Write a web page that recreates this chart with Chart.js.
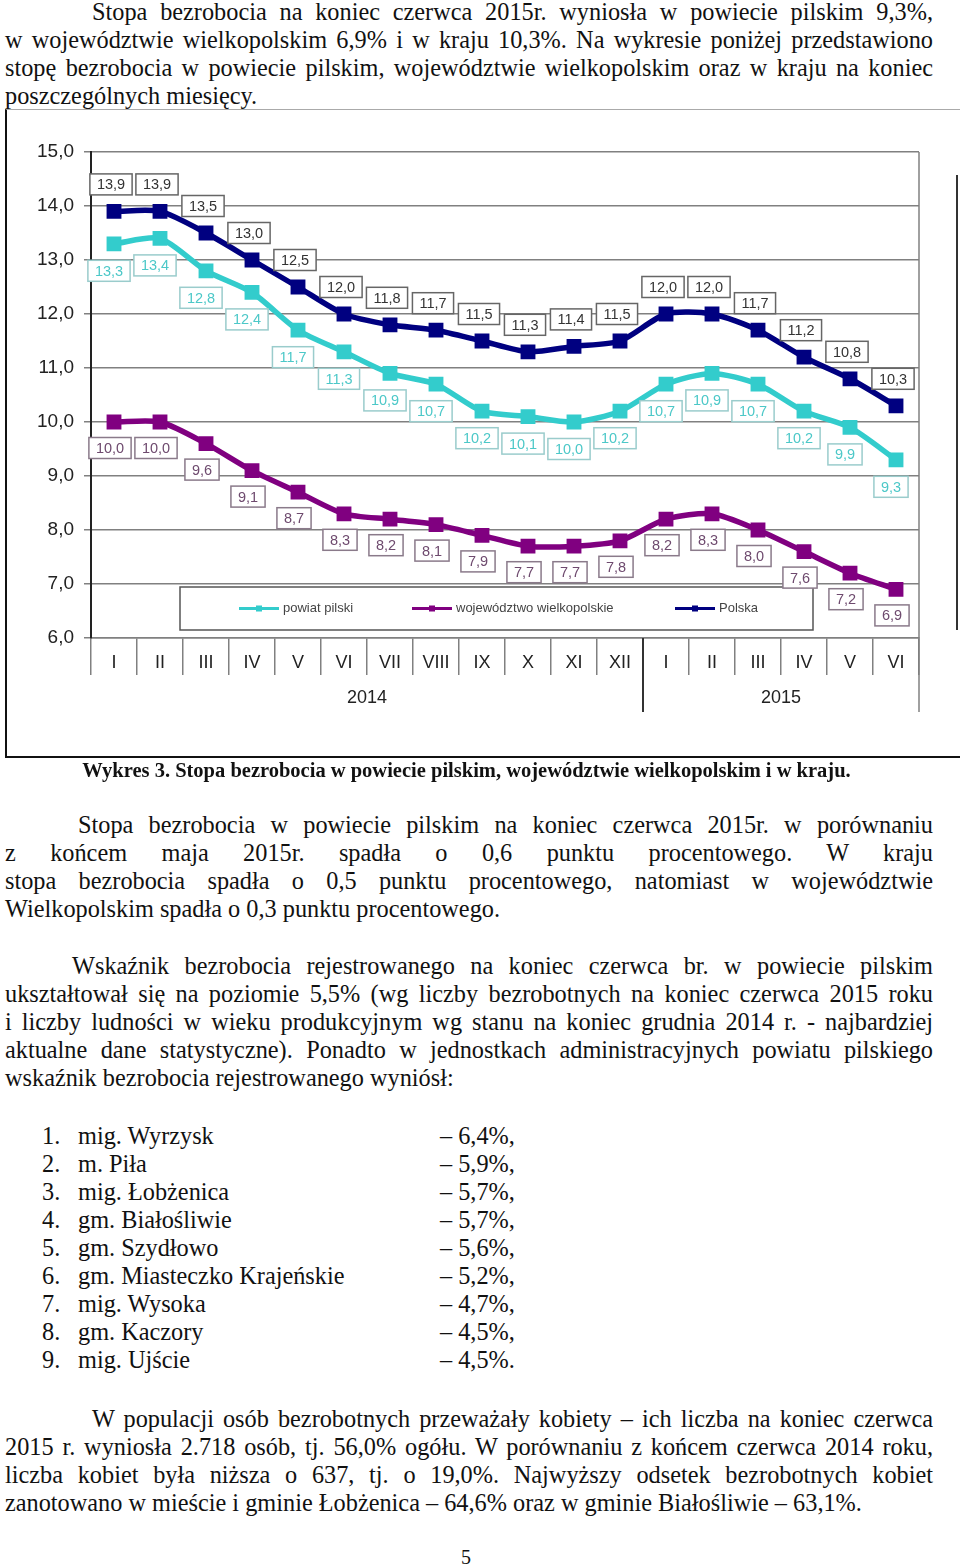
<!DOCTYPE html>
<html lang="pl">
<head>
<meta charset="UTF-8">
<title>Stopa bezrobocia - Wykres 3</title>
<script src="https://cdn.jsdelivr.net/npm/chart.js"></script>
<style>
  html, body { margin: 0; padding: 0; background: #fff; }
  body { width: 960px; height: 1566px; position: relative; overflow: hidden; }
  .t { position: absolute; height: 28px; line-height: 28px; font-family: "Liberation Serif", "Times New Roman", serif;
       font-size: 24.3px; color: #111; white-space: nowrap; }
  .j { text-align: justify; text-align-last: justify; }
  .frame { position: absolute; left: 5px; top: 109px; width: 953px; height: 646px;
           border-left: 2px solid #111; border-top: 1px solid #aaa; border-bottom: 2px solid #111; }
  .frame-right { position: absolute; left: 956px; top: 175px; width: 2px; height: 455px; background: #333; }
  #chartBox { position: absolute; left: 0; top: 110px; width: 960px; height: 647px; }
  .caption { position: absolute; left: 0; width: 933px; top: 756px; height: 28px; line-height: 28px; text-align: center;
             font-family: "Liberation Serif", serif; font-weight: bold; font-size: 20.5px; color: #111; }
</style>
</head>
<body>
  <div class="t j" style="left:92px;width:841px;top:-2px">Stopa bezrobocia na koniec czerwca 2015r. wyniosła w powiecie pilskim 9,3%,</div>
  <div class="t j" style="left:5px;width:928px;top:26px">w województwie wielkopolskim 6,9% i w kraju 10,3%. Na wykresie poniżej przedstawiono</div>
  <div class="t j" style="left:5px;width:928px;top:54px">stopę bezrobocia w powiecie pilskim, województwie wielkopolskim oraz w kraju na koniec</div>
  <div class="t" style="left:5px;top:82px">poszczególnych miesięcy.</div>

  <div class="frame"></div>
  <div class="frame-right"></div>
  <div id="chartBox"><canvas id="unempChart" width="960" height="647"></canvas></div>

  <div class="caption">Wykres 3. Stopa bezrobocia w powiecie pilskim, województwie wielkopolskim i w kraju.</div>

  <div class="t j" style="left:78px;width:855px;top:811px">Stopa bezrobocia w powiecie pilskim na koniec czerwca 2015r. w porównaniu</div>
  <div class="t j" style="left:5px;width:928px;top:839px">z końcem maja 2015r. spadła o 0,6 punktu procentowego. W kraju</div>
  <div class="t j" style="left:5px;width:928px;top:867px">stopa bezrobocia spadła o 0,5 punktu procentowego, natomiast w województwie</div>
  <div class="t" style="left:5px;top:895px">Wielkopolskim spadła o 0,3 punktu procentowego.</div>

  <div class="t j" style="left:72px;width:861px;top:952px">Wskaźnik bezrobocia rejestrowanego na koniec czerwca br. w powiecie pilskim</div>
  <div class="t j" style="left:5px;width:928px;top:980px">ukształtował się na poziomie 5,5% (wg liczby bezrobotnych na koniec czerwca 2015 roku</div>
  <div class="t j" style="left:5px;width:928px;top:1008px">i liczby ludności w wieku produkcyjnym wg stanu na koniec grudnia 2014 r. - najbardziej</div>
  <div class="t j" style="left:5px;width:928px;top:1036px">aktualne dane statystyczne). Ponadto w jednostkach administracyjnych powiatu pilskiego</div>
  <div class="t" style="left:5px;top:1064px">wskaźnik bezrobocia rejestrowanego wyniósł:</div>

  <div id="list"></div>

  <div class="t j" style="left:92px;width:841px;top:1405px">W populacji osób bezrobotnych przeważały kobiety – ich liczba na koniec czerwca</div>
  <div class="t j" style="left:5px;width:928px;top:1433px">2015 r. wyniosła 2.718 osób, tj. 56,0% ogółu. W porównaniu z końcem czerwca 2014 roku,</div>
  <div class="t j" style="left:5px;width:928px;top:1461px">liczba kobiet była niższa o 637, tj. o 19,0%. Najwyższy odsetek bezrobotnych kobiet</div>
  <div class="t" style="left:5px;top:1489px">zanotowano w mieście i gminie Łobżenica – 64,6% oraz w gminie Białośliwie – 63,1%.</div>

  <div class="t" style="left:461px;top:1543px;font-size:20px">5</div>

<script>
// --- dane wykresu ---
const monthLabels = ['I', 'II', 'III', 'IV', 'V', 'VI', 'VII', 'VIII', 'IX', 'X', 'XI', 'XII',
                     'I', 'II', 'III', 'IV', 'V', 'VI'];
const yearLabels = ['2014', '2015'];
const monthsPerYear = [12, 6];

const powiatPilski = [13.3, 13.4, 12.8, 12.4, 11.7, 11.3, 10.9, 10.7, 10.2, 10.1, 10.0, 10.2,
                      10.7, 10.9, 10.7, 10.2, 9.9, 9.3];
const wojWielkopolskie = [10.0, 10.0, 9.6, 9.1, 8.7, 8.3, 8.2, 8.1, 7.9, 7.7, 7.7, 7.8,
                          8.2, 8.3, 8.0, 7.6, 7.2, 6.9];
const polska = [13.9, 13.9, 13.5, 13.0, 12.5, 12.0, 11.8, 11.7, 11.5, 11.3, 11.4, 11.5,
                12.0, 12.0, 11.7, 11.2, 10.8, 10.3];

const yMin = 6, yMax = 15, yStep = 1;

// lista gmin pod wykresem
const gminy = ['mig. Wyrzysk', 'm. Piła', 'mig. Łobżenica', 'gm. Białośliwie', 'gm. Szydłowo',
               'gm. Miasteczko Krajeńskie', 'mig. Wysoka', 'gm. Kaczory', 'mig. Ujście'];
const wskazniki = ['6,4%,', '5,9%,', '5,7%,', '5,7%,', '5,6%,', '5,2%,', '4,7%,', '4,5%,', '4,5%.'];

const list = document.getElementById('list');
gminy.forEach((g, i) => {
  const top = 1122 + i * 28;
  list.insertAdjacentHTML('beforeend',
    `<div class="t" style="left:42px;top:${top}px">${i + 1}.</div>` +
    `<div class="t" style="left:78px;top:${top}px">${g}</div>` +
    `<div class="t" style="left:440px;top:${top}px">– ${wskazniki[i]}</div>`);
});

const fmt = v => v.toFixed(1).replace('.', ',');

// etykiety wartości w ramkach
const valueBoxes = {
  id: 'valueBoxes',
  afterDatasetsDraw(chart) {
    const ctx = chart.ctx;
    ctx.save();
    ctx.font = '14.5px "Liberation Sans", Arial, sans-serif';
    ctx.textAlign = 'center';
    ctx.textBaseline = 'middle';
    chart.data.datasets.forEach((ds, di) => {
      const meta = chart.getDatasetMeta(di);
      meta.data.forEach((pt, i) => {
        const txt = fmt(ds.data[i]);
        const cx = pt.x + ds.labelDx;
        const cy = pt.y + ds.labelDy;
        const w = ctx.measureText(txt).width + 14;
        const h = 21;
        ctx.fillStyle = '#fff';
        ctx.fillRect(cx - w / 2, cy - h / 2, w, h);
        ctx.strokeStyle = ds.labelBorder;
        ctx.lineWidth = 1.5;
        ctx.strokeRect(cx - w / 2, cy - h / 2, w, h);
        ctx.fillStyle = ds.labelColor;
        ctx.fillText(txt, cx, cy + 1);
      });
    });
    ctx.restore();
  }
};

// legenda w ramce na polu wykresu
const boxLegend = {
  id: 'boxLegend',
  afterDatasetsDraw(chart) {
    const ctx = chart.ctx;
    const top = 477, bottom = 520, left = 180, right = 813;
    const starts = [239, 412, 675];
    ctx.save();
    ctx.fillStyle = '#fff';
    ctx.fillRect(left, top, right - left, bottom - top);
    ctx.strokeStyle = '#555';
    ctx.lineWidth = 1.5;
    ctx.strokeRect(left, top, right - left, bottom - top);
    const cy = (top + bottom) / 2;
    ctx.font = '13px "Liberation Sans", Arial, sans-serif';
    ctx.textBaseline = 'middle';
    chart.data.datasets.forEach((ds, i) => {
      const x = starts[i];
      ctx.strokeStyle = ds.borderColor;
      ctx.lineWidth = 3;
      ctx.beginPath();
      ctx.moveTo(x, cy);
      ctx.lineTo(x + 40, cy);
      ctx.stroke();
      ctx.fillStyle = ds.borderColor;
      ctx.fillRect(x + 17, cy - 3, 6, 6);
      ctx.fillStyle = '#444';
      ctx.fillText(ds.label, x + 44, cy);
    });
    ctx.restore();
  }
};

// prawa krawędź, separatory lat i podpisy lat
const yearAxis = {
  id: 'yearAxis',
  afterDraw(chart) {
    const ctx = chart.ctx;
    const xs = chart.scales.x;
    const area = chart.chartArea;
    const half = (xs.getPixelForValue(1) - xs.getPixelForValue(0)) / 2;
    const lowY = area.bottom + 74;
    ctx.save();
    ctx.strokeStyle = '#808080';
    ctx.lineWidth = 1.5;
    ctx.beginPath();
    ctx.moveTo(area.right, area.top);
    ctx.lineTo(area.right, lowY);
    ctx.stroke();
    ctx.strokeStyle = '#333';
    ctx.lineWidth = 2;
    ctx.font = '18px "Liberation Sans", Arial, sans-serif';
    ctx.fillStyle = '#222';
    ctx.textAlign = 'center';
    ctx.textBaseline = 'middle';
    let start = 0;
    yearLabels.forEach((yl, k) => {
      const end = start + monthsPerYear[k] - 1;
      const x0 = xs.getPixelForValue(start) - half;
      const x1 = xs.getPixelForValue(end) + half;
      if (k > 0) {
        ctx.beginPath();
        ctx.moveTo(x0, area.bottom);
        ctx.lineTo(x0, lowY);
        ctx.stroke();
      }
      ctx.fillText(yl, (x0 + x1) / 2, area.bottom + 60);
      start = end + 1;
    });
    ctx.restore();
  }
};

const ctx = document.getElementById('unempChart').getContext('2d');
new Chart(ctx, {
  type: 'line',
  data: {
    labels: monthLabels,
    datasets: [
      {
        label: 'powiat pilski',
        data: powiatPilski,
        borderColor: '#33cccc',
        backgroundColor: '#33cccc',
        labelColor: '#4cc8c8', labelBorder: '#9acccc', labelDx: -5, labelDy: 27
      },
      {
        label: 'województwo wielkopolskie',
        data: wojWielkopolskie,
        borderColor: '#800080',
        backgroundColor: '#800080',
        labelColor: '#6e4a6e', labelBorder: '#8a7a8a', labelDx: -4, labelDy: 26
      },
      {
        label: 'Polska',
        data: polska,
        borderColor: '#000080',
        backgroundColor: '#000080',
        labelColor: '#333', labelBorder: '#666', labelDx: -3, labelDy: -27
      }
    ]
  },
  options: {
    responsive: false,
    animation: false,
    layout: { padding: { top: 42, right: 41, left: 0, bottom: 0 } },
    elements: {
      line: { borderWidth: 5.5, tension: 0.25 },
      point: { pointStyle: 'rect', radius: 10.5, hoverRadius: 10.5, borderWidth: 0 }
    },
    plugins: {
      legend: { display: false },
      tooltip: { enabled: false }
    },
    scales: {
      x: {
        offset: true,
        grid: { offset: true, drawOnChartArea: false, drawTicks: true, tickLength: 37, color: '#808080', lineWidth: 1.5 },
        border: { display: true, color: '#808080', width: 1.5 },
        ticks: { color: '#222', font: { family: '"Liberation Sans", Arial, sans-serif', size: 18 }, padding: -23, maxRotation: 0, autoSkip: false },
        afterFit: s => { s.height = 119; }
      },
      y: {
        min: yMin,
        max: yMax,
        ticks: {
          stepSize: yStep,
          color: '#222',
          padding: 10,
          font: { family: '"Liberation Sans", Arial, sans-serif', size: 19 },
          callback: v => fmt(v)
        },
        grid: { color: '#808080', lineWidth: 1.5, tickLength: 7 },
        border: { display: true, color: '#222', width: 2 },
        afterFit: s => { s.width = 91; }
      }
    }
  },
  plugins: [boxLegend, valueBoxes, yearAxis]
});
</script>
</body>
</html>
